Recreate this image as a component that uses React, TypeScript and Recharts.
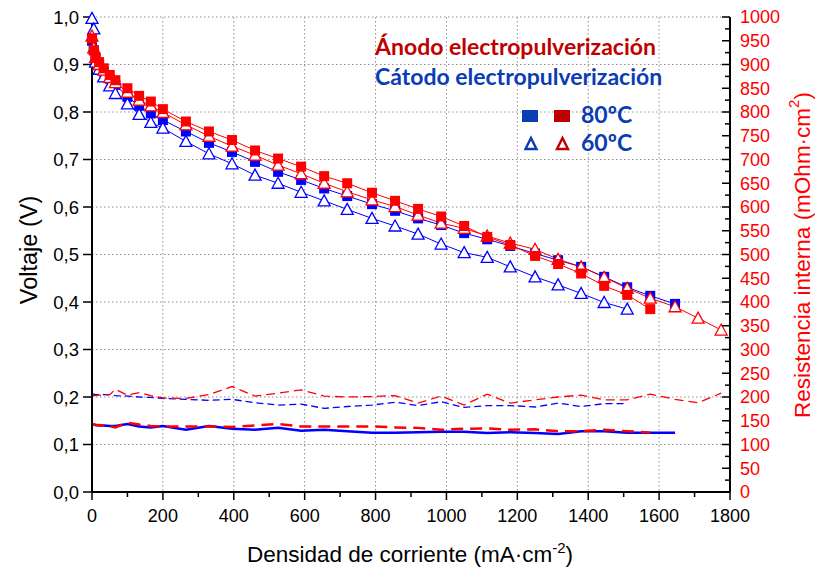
import React from 'react';
import { ComposedChart, Line, XAxis, YAxis, CartesianGrid } from 'recharts';

// Current density (mA·cm-2)
const xs = [0, 5, 10, 20, 33, 50, 66, 100, 133, 166, 200, 265, 330, 395, 460, 525, 590, 655, 720, 790, 855, 920, 985, 1050, 1115, 1180, 1250, 1315, 1380, 1445, 1510, 1575, 1645, 1710, 1775];

// Voltage (V)
const anode80V = [0.955, 0.93, 0.915, 0.905, 0.892, 0.878, 0.867, 0.85, 0.834, 0.822, 0.806, 0.78, 0.759, 0.741, 0.719, 0.702, 0.685, 0.665, 0.65, 0.63, 0.613, 0.596, 0.58, 0.56, 0.537, 0.52, 0.497, 0.48, 0.46, 0.434, 0.415, 0.385];
const anode60V = [0.96, 0.935, 0.915, 0.9, 0.888, 0.873, 0.862, 0.842, 0.825, 0.813, 0.799, 0.773, 0.749, 0.728, 0.709, 0.688, 0.67, 0.65, 0.632, 0.615, 0.601, 0.583, 0.566, 0.555, 0.539, 0.524, 0.511, 0.49, 0.474, 0.452, 0.429, 0.408, 0.39, 0.366, 0.341];
const cathode80V = [0.95, 0.93, 0.912, 0.9, 0.885, 0.87, 0.857, 0.832, 0.813, 0.797, 0.783, 0.759, 0.735, 0.716, 0.695, 0.674, 0.657, 0.639, 0.623, 0.606, 0.592, 0.576, 0.562, 0.545, 0.532, 0.518, 0.502, 0.488, 0.474, 0.453, 0.431, 0.413, 0.396];
const cathode60V = [0.997, 0.975, 0.905, 0.89, 0.874, 0.855, 0.839, 0.817, 0.795, 0.778, 0.766, 0.738, 0.712, 0.691, 0.667, 0.65, 0.631, 0.613, 0.595, 0.576, 0.56, 0.543, 0.522, 0.504, 0.494, 0.474, 0.453, 0.436, 0.418, 0.399, 0.385];

// Internal resistance (mOhm·cm2)
const anode80R = [143, 142, 141, 141, 140, 139, 136, 146, 142, 139, 138, 138, 138, 137, 140, 143, 138, 138, 138, 138, 136, 135, 131, 133, 134, 131, 132, 128, 128, 131, 128, 125];
const anode60R = [204, 203, 203, 204, 204, 205, 216, 204, 209, 203, 198, 197, 205, 222, 202, 208, 215, 202, 200, 201, 203, 187, 202, 183, 206, 187, 194, 200, 204, 194, 194, 206, 195, 188, 208];
const cathode80R = [143, 142, 141, 140, 140, 139, 139, 143, 138, 136, 139, 131, 139, 133, 131, 135, 129, 131, 128, 125, 125, 126, 127, 127, 124, 126, 124, 122, 128, 128, 125, 125, 125];
const cathode60R = [207, 206, 205, 205, 205, 205, 203, 202, 200, 199, 197, 195, 193, 195, 188, 183, 185, 176, 180, 183, 189, 182, 190, 178, 182, 182, 179, 187, 180, 186, 186];

// Tick values
const xTicks = [0, 100, 200, 300, 400, 500, 600, 700, 800, 900, 1000, 1100, 1200, 1300, 1400, 1500, 1600, 1700, 1800];
const gridX = [200, 400, 600, 800, 1000, 1200, 1400, 1600];
const vTicks = [0, 0.1, 0.2, 0.3, 0.4, 0.5, 0.6, 0.7, 0.8, 0.9, 1.0];
const rTicks = Array.from({ length: 41 }, (_, i) => i * 25);

const rows = xs.map((x, i) => ({
  x,
  a80: anode80V[i],
  a60: anode60V[i],
  c80: cathode80V[i],
  c60: cathode60V[i],
  ra80: anode80R[i],
  ra60: anode60R[i],
  rc80: cathode80R[i],
  rc60: cathode60R[i],
}));

const W = 815;
const H = 569;
const PLOT_L = 92;
const PLOT_R = 730;
const PLOT_T = 17;
const PLOT_B = 492;
const FONT = '"Liberation Sans", Arial, sans-serif';
const LFONT = 'Lato, "Open Sans", sans-serif';
const BLUE = '#0000ff';
const RED = '#ff0000';
const LBLUE = '#0a3cb4';
const LRED = '#c00000';

const squareDot = (color: string) => (p: any) => {
  if (p.cx == null || p.cy == null || p.value == null) return <g key={p.index} />;
  return <rect key={p.index} x={p.cx - 5} y={p.cy - 5} width={10} height={10} fill={color} />;
};

const triDot = (color: string) => (p: any) => {
  if (p.cx == null || p.cy == null || p.value == null) return <g key={p.index} />;
  const { cx, cy } = p;
  return (
    <polygon
      key={p.index}
      points={`${cx},${cy - 6} ${cx + 6},${cy + 5} ${cx - 6},${cy + 5}`}
      fill="#fff"
      stroke={color}
      strokeWidth={1.3}
    />
  );
};

const BottomTick = (p: any) => {
  const v = p.payload.value;
  const x = p.x;
  const major = v % 200 === 0;
  return (
    <g>
      <line x1={x} x2={x} y1={PLOT_B} y2={PLOT_B + (major ? 8 : 5)} stroke="#000" strokeWidth={1.5} />
      {major && (
        <text x={x} y={522} textAnchor="middle" fontSize={18} fontFamily={FONT} fill="#000">
          {v}
        </text>
      )}
    </g>
  );
};

const TopTick = (p: any) => {
  const v = p.payload.value;
  const x = p.x;
  if (v === 0 || v === 1800) return <g />;
  return <line x1={x} x2={x} y1={PLOT_T} y2={PLOT_T + 5} stroke="#000" strokeWidth={1.5} />;
};

const RightTick = (p: any) => {
  const v = p.payload.value;
  const y = p.y;
  const major = v % 50 === 0;
  return (
    <g>
      <line x1={PLOT_R - (major ? 8 : 5)} x2={PLOT_R} y1={y} y2={y} stroke="#000" strokeWidth={1.5} />
      {major && (
        <text x={740} y={y} dy="0.36em" textAnchor="start" fontSize={18} fontFamily={FONT} fill={RED}>
          {v}
        </text>
      )}
    </g>
  );
};

export default function App() {
  return (
    <div style={{ position: 'absolute', left: 0, top: 0, width: W, height: H, background: '#fff' }}>
      <ComposedChart width={W} height={H} data={rows} margin={{ top: PLOT_T, right: 0, bottom: 0, left: 0 }}>
        <CartesianGrid
          xAxisId="x"
          yAxisId="v"
          stroke="#909090"
          strokeDasharray="1.5 2.5"
          strokeWidth={1}
          verticalCoordinatesGenerator={({ xAxis }: any) =>
            gridX.map((v) =>
              xAxis && typeof xAxis.scale === 'function' ? xAxis.scale(v) : PLOT_L + (v / 1800) * (PLOT_R - PLOT_L)
            )
          }
        />
        <XAxis
          xAxisId="x"
          dataKey="x"
          type="number"
          domain={[0, 1800]}
          ticks={xTicks}
          height={H - PLOT_B}
          interval={0}
          axisLine={{ stroke: '#000', strokeWidth: 2 }}
          tickLine={false}
          tick={<BottomTick />}
        />
        <XAxis
          xAxisId="top"
          orientation="top"
          dataKey="x"
          type="number"
          domain={[0, 1800]}
          ticks={xTicks}
          height={0}
          interval={0}
          axisLine={{ stroke: '#000', strokeWidth: 2 }}
          tickLine={false}
          tick={<TopTick />}
        />
        <YAxis
          yAxisId="v"
          type="number"
          domain={[0, 1]}
          ticks={vTicks}
          interval={0}
          width={PLOT_L}
          axisLine={{ stroke: '#000', strokeWidth: 2 }}
          tickLine={{ stroke: '#000', strokeWidth: 1.5 }}
          tickSize={9}
          tickMargin={4}
          tick={{ fontSize: 18.5, fill: '#000', fontFamily: FONT }}
          tickFormatter={(v: number) => v.toFixed(1).replace('.', ',')}
        />
        <YAxis
          yAxisId="r"
          orientation="right"
          type="number"
          domain={[0, 1000]}
          ticks={rTicks}
          interval={0}
          width={W - PLOT_R}
          axisLine={{ stroke: '#000', strokeWidth: 2 }}
          tickLine={false}
          tick={<RightTick />}
        />

        <Line xAxisId="x" yAxisId="r" dataKey="rc60" stroke={BLUE} strokeWidth={1.3} strokeDasharray="7 4" dot={false} isAnimationActive={false} />
        <Line xAxisId="x" yAxisId="r" dataKey="ra60" stroke={RED} strokeWidth={1.3} strokeDasharray="9 5" dot={false} isAnimationActive={false} />
        <Line xAxisId="x" yAxisId="r" dataKey="rc80" stroke={BLUE} strokeWidth={2.5} dot={false} isAnimationActive={false} />
        <Line xAxisId="x" yAxisId="r" dataKey="ra80" stroke={RED} strokeWidth={2.5} strokeDasharray="12 7" dot={false} isAnimationActive={false} />

        <Line xAxisId="x" yAxisId="v" dataKey="c80" stroke={BLUE} strokeWidth={1} dot={squareDot(BLUE)} isAnimationActive={false} />
        <Line xAxisId="x" yAxisId="v" dataKey="c60" stroke={BLUE} strokeWidth={1} dot={triDot(BLUE)} isAnimationActive={false} />
        <Line xAxisId="x" yAxisId="v" dataKey="a60" stroke={RED} strokeWidth={1} dot={triDot(RED)} isAnimationActive={false} />
        <Line xAxisId="x" yAxisId="v" dataKey="a80" stroke={RED} strokeWidth={1} dot={squareDot(RED)} isAnimationActive={false} />
      </ComposedChart>

      <svg width={W} height={H} style={{ position: 'absolute', left: 0, top: 0, pointerEvents: 'none' }}>
        <text x={29} y={250} transform="rotate(-90 29 250)" textAnchor="middle" dominantBaseline="central" fontSize={23.5} fontFamily={FONT} fill="#000">
          Voltaje (V)
        </text>
        <text x={802} y={255} transform="rotate(-90 802 255)" textAnchor="middle" dominantBaseline="central" fontSize={22.5} fontFamily={FONT} fill={RED}>
          Resistencia interna (mOhm·cm<tspan dy={-9} fontSize={15}>2</tspan><tspan dy={9}>)</tspan>
        </text>
        <text x={410} y={562} textAnchor="middle" fontSize={22.5} fontFamily={FONT} fill="#000">
          Densidad de corriente (mA·cm<tspan dy={-9} fontSize={15}>-2</tspan><tspan dy={9}>)</tspan>
        </text>

        <text x={375} y={55} fontSize={23} fontWeight={700} fontFamily={LFONT} fill={LRED}>
          Ánodo electropulverización
        </text>
        <text x={375} y={85} fontSize={23} fontWeight={700} fontFamily={LFONT} fill={LBLUE}>
          Cátodo electropulverización
        </text>

        <rect x={522} y={110} width={16} height={12} fill={LBLUE} />
        <rect x={554} y={110} width={16} height={12} fill={LRED} />
        <text x={581} y={123} fontSize={23} fontWeight={700} fontFamily={LFONT} fill={LBLUE}>
          80ºC
        </text>
        <polygon points="531,138 536.5,149 525.5,149" fill="none" stroke={LBLUE} strokeWidth={2.4} strokeLinejoin="miter" />
        <polygon points="562.5,138 568,149 557,149" fill="none" stroke={LRED} strokeWidth={2.4} strokeLinejoin="miter" />
        <text x={581} y={151} fontSize={23} fontWeight={700} fontFamily={LFONT} fill={LBLUE}>
          60ºC
        </text>
      </svg>
    </div>
  );
}
